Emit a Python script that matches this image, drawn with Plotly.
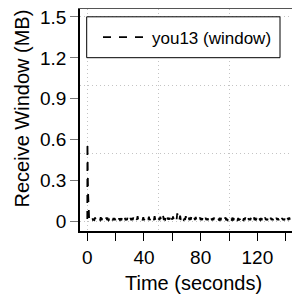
import plotly.graph_objects as go

series_name = "you13 (window)"

time_s = [0, 0.1, 0.2, 0.3, 0.4, 0.6, 0.8, 1.0, 1.3, 1.6,
          2, 2.5, 3, 3.5, 4, 4.5, 5, 5.5, 6, 6.5, 7, 7.5, 8, 8.5, 9, 9.5, 10, 10.5, 11, 11.5,
          12, 12.5, 13, 13.5, 14, 14.5, 15, 15.5, 16, 16.5, 17, 17.5, 18, 18.5, 19, 19.5, 20, 20.5, 21, 21.5,
          22, 22.5, 23, 23.5, 24, 24.5, 25, 25.5, 26, 26.5, 27, 27.5, 28, 28.5, 29, 29.5, 30, 30.5, 31, 31.5,
          32, 32.5, 33, 33.5, 34, 34.5, 35, 35.5, 36, 36.5, 37, 37.5, 38, 38.5, 39, 39.5, 40, 40.5, 41, 41.5,
          42, 42.5, 43, 43.5, 44, 44.5, 45, 45.5, 46, 46.5, 47, 47.5, 48, 48.5, 49, 49.5, 50, 50.5, 51, 51.5,
          52, 52.5, 53, 53.5, 54, 54.5, 55, 55.5, 56, 56.5, 57, 57.5, 58, 58.5, 59, 59.5, 60, 60.5, 61, 61.5,
          62, 62.5, 63, 63.5, 64, 64.5, 65, 65.5, 66, 66.5, 67, 67.5, 68, 68.5, 69, 69.5, 70, 70.5, 71, 71.5,
          72, 72.5, 73, 73.5, 74, 74.5, 75, 75.5, 76, 76.5, 77, 77.5, 78, 78.5, 79, 79.5, 80, 80.5, 81, 81.5,
          82, 82.5, 83, 83.5, 84, 84.5, 85, 85.5, 86, 86.5, 87, 87.5, 88, 88.5, 89, 89.5, 90, 90.5, 91, 91.5,
          92, 92.5, 93, 93.5, 94, 94.5, 95, 95.5, 96, 96.5, 97, 97.5, 98, 98.5, 99, 99.5, 100, 100.5, 101, 101.5,
          102, 102.5, 103, 103.5, 104, 104.5, 105, 105.5, 106, 106.5, 107, 107.5, 108, 108.5, 109, 109.5, 110, 110.5, 111, 111.5,
          112, 112.5, 113, 113.5, 114, 114.5, 115, 115.5, 116, 116.5, 117, 117.5, 118, 118.5, 119, 119.5, 120, 120.5, 121, 121.5,
          122, 122.5, 123, 123.5, 124, 124.5, 125, 125.5, 126, 126.5, 127, 127.5, 128, 128.5, 129, 129.5, 130, 130.5, 131, 131.5,
          132, 132.5, 133, 133.5, 134, 134.5, 135, 135.5, 136, 136.5, 137, 137.5, 138, 138.5, 139, 139.5, 140, 140.5, 141, 141.5,
          142, 142.5, 143, 143.5, 144, 144.5, 145, 145.5, 146, 146.5, 147, 147.5, 148, 148.5, 149, 149.5]

window_mb = [0.02, 0.58, 0.5, 0.4, 0.3, 0.2, 0.1, 0.03, 0.02, 0.015,
             0.012, 0.02, 0.011, 0.028, 0.013, 0.016, 0.012, 0.031, 0.011, 0.018, 0.013, 0.024, 0.012, 0.015, 0.011, 0.033, 0.012, 0.019, 0.013, 0.026,
             0.011, 0.017, 0.012, 0.03, 0.013, 0.021, 0.011, 0.016, 0.012, 0.035, 0.013, 0.018, 0.011, 0.027, 0.012, 0.02, 0.013, 0.032, 0.011, 0.017,
             0.012, 0.025, 0.013, 0.019, 0.011, 0.034, 0.012, 0.016, 0.013, 0.029, 0.011, 0.021, 0.012, 0.038, 0.013, 0.017, 0.011, 0.026, 0.012, 0.02,
             0.013, 0.031, 0.011, 0.018, 0.012, 0.027, 0.013, 0.04, 0.011, 0.019, 0.012, 0.024, 0.013, 0.016, 0.011, 0.033, 0.012, 0.021, 0.013, 0.028,
             0.012, 0.019, 0.014, 0.036, 0.012, 0.022, 0.013, 0.03, 0.014, 0.018, 0.012, 0.041, 0.013, 0.024, 0.014, 0.031, 0.015, 0.02, 0.013, 0.037,
             0.014, 0.026, 0.015, 0.043, 0.013, 0.021, 0.016, 0.034, 0.014, 0.038, 0.015, 0.028, 0.016, 0.046, 0.014, 0.025, 0.015, 0.039, 0.016, 0.022,
             0.015, 0.031, 0.014, 0.062, 0.016, 0.027, 0.015, 0.044, 0.014, 0.023, 0.016, 0.036, 0.015, 0.02, 0.014, 0.041, 0.015, 0.025, 0.014, 0.033,
             0.013, 0.022, 0.014, 0.037, 0.013, 0.019, 0.014, 0.029, 0.012, 0.034, 0.013, 0.018, 0.014, 0.026, 0.012, 0.031, 0.013, 0.02, 0.012, 0.035,
             0.012, 0.017, 0.013, 0.028, 0.012, 0.022, 0.011, 0.033, 0.012, 0.016, 0.013, 0.027, 0.011, 0.019, 0.012, 0.03, 0.011, 0.017, 0.012, 0.024,
             0.011, 0.016, 0.012, 0.029, 0.011, 0.02, 0.012, 0.026, 0.011, 0.015, 0.012, 0.032, 0.011, 0.018, 0.012, 0.023, 0.011, 0.028, 0.012, 0.016,
             0.012, 0.03, 0.011, 0.019, 0.012, 0.034, 0.013, 0.017, 0.012, 0.027, 0.011, 0.021, 0.012, 0.036, 0.013, 0.018, 0.012, 0.025, 0.011, 0.031,
             0.012, 0.019, 0.013, 0.033, 0.012, 0.022, 0.011, 0.029, 0.012, 0.016, 0.013, 0.037, 0.012, 0.02, 0.011, 0.027, 0.012, 0.032, 0.013, 0.018,
             0.012, 0.026, 0.011, 0.035, 0.012, 0.017, 0.013, 0.03, 0.012, 0.021, 0.011, 0.034, 0.012, 0.019, 0.013, 0.028, 0.012, 0.023, 0.011, 0.032,
             0.012, 0.018, 0.013, 0.029, 0.012, 0.024, 0.011, 0.033, 0.012, 0.017, 0.013, 0.027, 0.012, 0.021, 0.011, 0.035, 0.012, 0.019, 0.013, 0.026,
             0.012, 0.031, 0.011, 0.018, 0.012, 0.027, 0.013, 0.034, 0.012, 0.02, 0.011, 0.029, 0.012, 0.017, 0.013, 0.025]

x_ticks = [0, 20, 40, 60, 80, 100, 120, 140]
x_tick_labels = ["0", "", "40", "", "80", "", "120", ""]
y_ticks = [0, 0.3, 0.6, 0.9, 1.2, 1.5]
y_tick_labels = ["0", "0.3", "0.6", "0.9", "1.2", "1.5"]
x_grid = [0, 50, 100, 150]
y_grid = [0, 0.5, 1.0, 1.5]

x_title = "Time (seconds)"
y_title = "Receive Window (MB)"

x_range = [-5.15, 150.1]
y_range = [-0.068, 1.558]

FONT = "Liberation Sans, Arial, sans-serif"
# the page body adds an 8px offset; positions below are in page pixels
OFF = 8
W, H = 300 - OFF, 298 - OFF
ML, MR, MT, MB = 80 - OFF, 0, 9 - OFF, 67
PW, PH = W - ML - MR, H - MT - MB


def px_x(px):
    return (px - OFF - ML) / PW


def px_y(py):
    return 1 - (py - OFF - MT) / PH


fig = go.Figure()
# invisible helper trace for the grid axes
fig.add_trace(go.Scatter(x=[x_grid[0]], y=[y_grid[0]], xaxis="x2", yaxis="y2",
                         mode="markers", marker=dict(opacity=0), showlegend=False,
                         hoverinfo="skip"))
fig.add_trace(go.Scatter(x=time_s, y=window_mb, mode="lines", name=series_name,
                         line=dict(color="black", width=1.8, dash="8px,8px")))

fig.update_layout(
    width=W, height=H,
    margin=dict(l=ML, r=MR, t=MT, b=MB),
    paper_bgcolor="white", plot_bgcolor="white",
    font=dict(family=FONT, color="black"),
    showlegend=True,
    legend=dict(x=px_x(98), y=px_y(37.5), xanchor="left", yanchor="middle",
                bgcolor="rgba(0,0,0,0)", borderwidth=0,
                font=dict(size=17, family=FONT), itemwidth=44),
    xaxis=dict(range=x_range, tickmode="array", tickvals=x_ticks, ticktext=x_tick_labels,
               ticks="outside", ticklen=8, tickcolor="black", tickwidth=1,
               showline=True, linecolor="black", linewidth=1.5, showgrid=False,
               zeroline=False, tickfont=dict(size=19), automargin=False,
               ticklabeloverflow="allow"),
    yaxis=dict(range=y_range, tickmode="array", tickvals=y_ticks, ticktext=y_tick_labels,
               ticks="outside", ticklen=8, tickcolor="#777", tickwidth=1,
               showline=True, linecolor="black", linewidth=1.5, showgrid=False,
               zeroline=False, tickfont=dict(size=19), automargin=False,
               ticklabeloverflow="allow"),
    xaxis2=dict(range=x_range, overlaying="x", side="top", anchor="y2",
                tickmode="array", tickvals=x_grid, showticklabels=False, ticks="",
                showgrid=True, gridcolor="#c4c4c4", griddash="1px,3px", gridwidth=1,
                showline=True, linecolor="#555555", linewidth=1.5, zeroline=False,
                automargin=False),
    yaxis2=dict(range=y_range, overlaying="y", side="right", anchor="x2",
                tickmode="array", tickvals=y_grid, showticklabels=False, ticks="",
                showgrid=True, gridcolor="#c4c4c4", griddash="1px,3px", gridwidth=1,
                showline=False, zeroline=False, automargin=False),
    shapes=[dict(type="rect", xref="paper", yref="paper",
                 x0=px_x(86.7), x1=px_x(280), y0=px_y(57.7), y1=px_y(16.8),
                 line=dict(color="black", width=1), fillcolor="white", layer="above")],
    annotations=[
        dict(text=x_title, xref="paper", yref="paper", x=px_x(193.5), y=px_y(283),
             xanchor="center", yanchor="middle", showarrow=False, font=dict(size=20)),
        dict(text=y_title, xref="paper", yref="paper", x=px_x(21), y=px_y(108.5),
             xanchor="center", yanchor="middle", showarrow=False, textangle=-90,
             font=dict(size=20)),
    ],
)

fig.write_html("out.html")
